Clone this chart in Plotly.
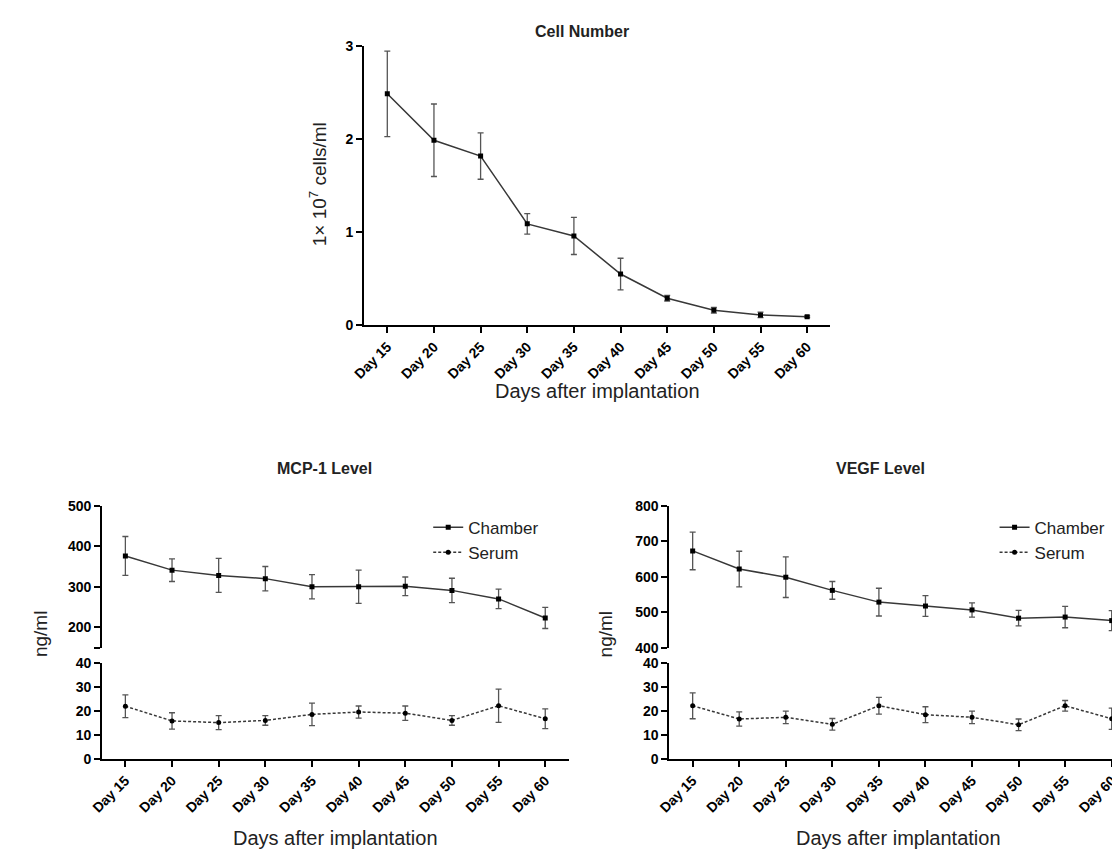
import plotly.graph_objects as go

# ---------------- data ----------------
days = ["Day 15", "Day 20", "Day 25", "Day 30", "Day 35",
        "Day 40", "Day 45", "Day 50", "Day 55", "Day 60"]

cell_mean = [2.49, 1.99, 1.82, 1.09, 0.96, 0.55, 0.29, 0.16, 0.11, 0.09]
cell_err = [0.46, 0.39, 0.25, 0.11, 0.20, 0.17, 0.03, 0.03, 0.03, 0.01]

mcp_chamber = [376, 341, 328, 320, 300, 300, 301, 291, 270, 223]
mcp_chamber_err = [48, 28, 42, 30, 30, 41, 23, 30, 24, 26]
mcp_serum = [21.9, 15.8, 15.1, 16.0, 18.5, 19.5, 19.0, 16.0, 22.1, 16.7]
mcp_serum_err = [4.7, 3.4, 2.9, 2.0, 4.7, 2.5, 3.0, 2.0, 6.9, 4.1]

vegf_chamber = [673, 622, 599, 562, 529, 518, 507, 484, 487, 477]
vegf_chamber_err = [53, 50, 57, 25, 39, 29, 20, 22, 30, 28]
vegf_serum = [22.1, 16.6, 17.3, 14.4, 22.1, 18.4, 17.3, 14.2, 22.1, 16.7]
vegf_serum_err = [5.4, 3.0, 2.6, 2.4, 3.5, 3.3, 2.6, 2.4, 2.2, 4.4]

mcp_upper_ticks = [200, 300, 400, 500]
mcp_upper_end = [150]
vegf_upper_ticks = [400, 500, 600, 700, 800]
lower_ticks = [0, 10, 20, 30, 40]
cell_ticks = [0, 1, 2, 3]

# ---------------- helpers ----------------
W, H = 1120, 859
FONT = "Liberation Sans, Arial, sans-serif"


def fx(px):
    return px / W


def fy(py):
    return 1 - py / H


LINE_C = "#383838"
ERR_C = "#555555"

fig = go.Figure()


def add_series(x_ax, y_ax, y, err, name, symbol, dash, legend, showlegend):
    fig.add_trace(go.Scatter(
        x=days, y=y, xaxis=x_ax, yaxis=y_ax, name=name,
        mode="lines+markers",
        line=dict(color=LINE_C, width=1.5, dash=dash),
        marker=dict(symbol=symbol, size=5, color="black"),
        error_y=dict(type="data", array=err, visible=True,
                     color=ERR_C, thickness=1.3, width=3),
        legend=legend, showlegend=showlegend,
    ))


# Cell number
add_series("x", "y", cell_mean, cell_err, "Cell", "square", "solid", "legend", False)
# MCP-1
add_series("x2", "y3", mcp_chamber, mcp_chamber_err, "Chamber", "square", "solid", "legend", True)
add_series("x2", "y2", mcp_serum, mcp_serum_err, "Serum", "circle", "3px,2px", "legend", True)
# VEGF
add_series("x3", "y5", vegf_chamber, vegf_chamber_err, "Chamber", "square", "solid", "legend2", True)
add_series("x3", "y4", vegf_serum, vegf_serum_err, "Serum", "circle", "3px,2px", "legend2", True)

tick_font_y = dict(family=FONT, size=14, color="black", weight="bold")
tick_font_x = dict(family=FONT, size=14, color="black", weight="bold")

common_axis = dict(showgrid=False, zeroline=False, showline=True,
                   linecolor="black", linewidth=2, ticks="outside",
                   ticklen=6, tickwidth=2, tickcolor="black")


def xax(domain, anchor, rng):
    d = dict(common_axis)
    d.update(domain=domain, anchor=anchor, type="category", range=rng,
             tickangle=-45, tickfont=tick_font_x, fixedrange=True)
    return d


def yax(domain, anchor, rng, tickvals, minor_vals=None):
    d = dict(common_axis)
    d.update(domain=domain, anchor=anchor, range=rng, tickvals=tickvals,
             tickfont=tick_font_y, fixedrange=True)
    if minor_vals is not None:
        d["minor"] = dict(tickvals=minor_vals, ticks="outside", ticklen=6,
                          tickwidth=2, tickcolor="black", showgrid=False)
    return d


fig.update_layout(
    width=W, height=H,
    margin=dict(l=0, r=0, t=0, b=0),
    paper_bgcolor="white", plot_bgcolor="white",
    font=dict(family=FONT, color="black"),
    xaxis=xax([fx(347), fx(819)], "y", [-0.5, 9.5]),
    yaxis=yax([fy(315), fy(31)], "x", [0, 3], cell_ticks),
    xaxis2=xax([fx(82), fx(554)], "y2", [-0.5, 9.5]),
    yaxis2=yax([fy(757), fy(659)], "x2", [0, 40], lower_ticks),
    yaxis3=yax([fy(643.5), fy(499)], "x2", [150, 500], mcp_upper_ticks, mcp_upper_end),
    xaxis3=xax([fx(656), 1.0], "y4", [-0.5, 9.35]),
    yaxis4=yax([fy(757), fy(659)], "x3", [0, 40], lower_ticks),
    yaxis5=yax([fy(644), fy(499)], "x3", [400, 800], vegf_upper_ticks),
    legend=dict(x=fx(412), y=fy(503), xanchor="left", yanchor="top",
                font=dict(family=FONT, size=17, color="#222"),
                bgcolor="rgba(0,0,0,0)", itemwidth=30, tracegroupgap=0),
    legend2=dict(x=fx(985), y=fy(503), xanchor="left", yanchor="top",
                 font=dict(family=FONT, size=17, color="#222"),
                 bgcolor="rgba(0,0,0,0)", itemwidth=30, tracegroupgap=0),
)

annotations = [
    dict(text="Cell Number", x=fx(568), y=fy(16), font=dict(size=16, weight="bold")),
    dict(text="MCP-1 Level", x=fx(307), y=fy(461), font=dict(size=16, weight="bold")),
    dict(text="VEGF Level", x=fx(870), y=fy(461), font=dict(size=16, weight="bold")),
    dict(text="Days after implantation", x=fx(583), y=fy(382), font=dict(size=20)),
    dict(text="Days after implantation", x=fx(318), y=fy(838), font=dict(size=20)),
    dict(text="Days after implantation", x=fx(888), y=fy(838), font=dict(size=20)),
    dict(text="1× 10<sup>7</sup> cells/ml", x=fx(300), y=fy(172), textangle=-90, font=dict(size=19)),
    dict(text="ng/ml", x=fx(19), y=fy(630), textangle=-90, font=dict(size=19)),
    dict(text="ng/ml", x=fx(591), y=fy(630), textangle=-90, font=dict(size=19)),
]
for a in annotations:
    a.update(xref="paper", yref="paper", showarrow=False,
             xanchor="center", yanchor="middle")
    a["font"] = dict(family=FONT, color="#222", **a["font"])
fig.update_layout(annotations=annotations)

fig.write_html("out.html")
